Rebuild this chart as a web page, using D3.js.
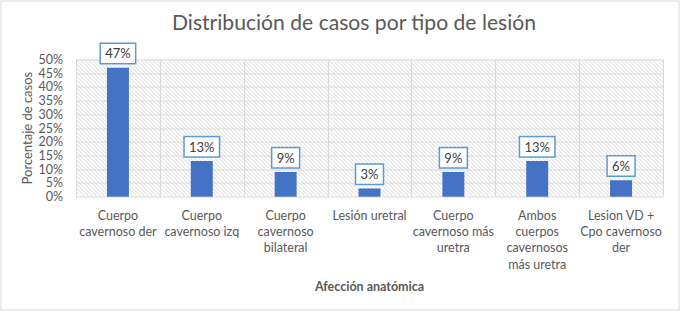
<!DOCTYPE html>
<html>
<head>
<meta charset="utf-8">
<script src="https://cdn.jsdelivr.net/npm/d3@7"></script>
<style>
  html, body { margin: 0; padding: 0; background: #fff; }
  svg { display: block; }
  text { font-family: Lato, "Open Sans", sans-serif; }
</style>
</head>
<body>
<svg id="chart" width="681" height="313"></svg>
<script>
const titleText = "Distribución de casos por tipo de lesión";
const categories = [
  ["Cuerpo", "cavernoso der"],
  ["Cuerpo", "cavernoso izq"],
  ["Cuerpo", "cavernoso", "bilateral"],
  ["Lesión uretral"],
  ["Cuerpo", "cavernoso más", "uretra"],
  ["Ambos", "cuerpos", "cavernosos", "más uretra"],
  ["Lesion VD +", "Cpo cavernoso", "der"]
];
const values = [47, 13, 9, 3, 9, 13, 6];
const yTicks = [0, 5, 10, 15, 20, 25, 30, 35, 40, 45, 50];
const yAxisTitle = "Porcentaje de casos";
const xAxisTitle = "Afección anatómica";

const svg = d3.select("#chart");
const W = 681, H = 313;
const m = { left: 76, right: 18, top: 59.5, bottom: 116.3 };
const iw = W - m.left - m.right, ih = H - m.top - m.bottom;

// outer border
svg.append("rect").attr("x", 1).attr("y", 1).attr("width", W - 3).attr("height", H - 4)
  .attr("fill", "#fff").attr("stroke", "#d9d9d9").attr("stroke-width", 1);

// hatch pattern
const defs = svg.append("defs");
const pat = defs.append("pattern").attr("id", "hatch").attr("patternUnits", "userSpaceOnUse")
  .attr("width", 4).attr("height", 4);
pat.append("rect").attr("width", 4).attr("height", 4).attr("fill", "#ffffff");
pat.append("path").attr("d", "M-1,-1 L5,5 M-1,3 L1,5 M3,-1 L5,1")
  .attr("stroke", "#cccccc").attr("stroke-width", 0.8);

const g = svg.append("g").attr("transform", `translate(${m.left},${m.top})`);

const x = d3.scaleBand().domain(d3.range(categories.length)).range([0, iw])
  .paddingInner(0.738).paddingOuter(0.369);
const xc = d3.scaleBand().domain(d3.range(categories.length)).range([0, iw]);
const y = d3.scaleLinear().domain([0, 50]).range([ih, 0]);

g.append("rect").attr("width", iw).attr("height", ih).attr("fill", "url(#hatch)");

// horizontal grid
g.selectAll(".hg").data(yTicks).join("line")
  .attr("x1", 0).attr("x2", iw)
  .attr("y1", d => Math.round(y(d)) + 0.5).attr("y2", d => Math.round(y(d)) + 0.5)
  .attr("stroke", "#d9d9d9").attr("stroke-width", 1);
// vertical grid
g.selectAll(".vg").data(d3.range(categories.length + 1)).join("line")
  .attr("x1", d => Math.round(d * xc.step()) + 0.5).attr("x2", d => Math.round(d * xc.step()) + 0.5)
  .attr("y1", 0).attr("y2", ih)
  .attr("stroke", "#d9d9d9").attr("stroke-width", 1);

// bars
g.selectAll(".bar").data(values).join("rect")
  .attr("x", (d, i) => x(i)).attr("width", x.bandwidth())
  .attr("y", d => y(d)).attr("height", d => ih - y(d))
  .attr("fill", "#4472c4");

// data labels
const lbl = g.selectAll(".lbl").data(values).join("g");
lbl.each(function(d, i) {
  const gg = d3.select(this);
  const cx = xc(i) + xc.bandwidth() / 2;
  const t = gg.append("text").text(d + "%")
    .attr("x", cx).attr("y", y(d) - 9.5)
    .attr("text-anchor", "middle").attr("font-size", 13).attr("fill", "#404040");
  const bw = t.node().getComputedTextLength() + 10;
  gg.insert("rect", "text")
    .attr("x", cx - bw / 2).attr("y", y(d) - 24.5)
    .attr("width", bw).attr("height", 20.5)
    .attr("fill", "#fff").attr("stroke", "#5b9bd5").attr("stroke-width", 1.5);
});

// y tick labels
g.selectAll(".yt").data(yTicks).join("text")
  .attr("x", -13).attr("y", d => y(d) + 4.5)
  .attr("text-anchor", "end").attr("font-size", 12.5).attr("fill", "#595959")
  .text(d => d + "%");

// x tick labels
g.selectAll(".xt").data(categories).join("text")
  .attr("text-anchor", "middle").attr("font-size", 12.5).attr("fill", "#595959")
  .each(function(lines, i) {
    const t = d3.select(this);
    lines.forEach((ln, k) => {
      t.append("tspan").attr("x", xc(i) + xc.bandwidth() / 2)
        .attr("y", ih + 23 + k * 16.3).text(ln);
    });
  });

// y axis title
svg.append("text").attr("transform", `translate(32,${m.top + ih / 2}) rotate(-90)`)
  .attr("text-anchor", "middle").attr("font-size", 13).attr("fill", "#595959")
  .text(yAxisTitle);

// x axis title
svg.append("text").attr("x", m.left + iw / 2).attr("y", 291)
  .attr("text-anchor", "middle").attr("font-size", 12.5).attr("font-weight", "bold").attr("fill", "#595959")
  .text(xAxisTitle);

// title
svg.append("text").attr("x", 354).attr("y", 30)
  .attr("text-anchor", "middle").attr("font-size", 21).attr("fill", "#595959")
  .attr("textLength", 364).attr("lengthAdjust", "spacingAndGlyphs")
  .text(titleText);
</script>
</body>
</html>
